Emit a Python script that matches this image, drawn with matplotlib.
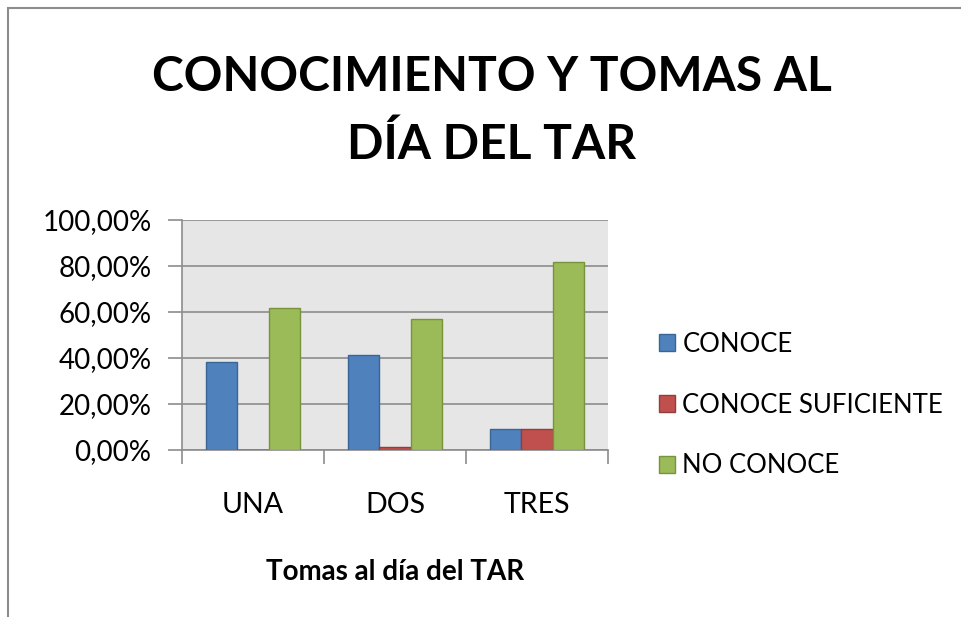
import numpy as np
import matplotlib
matplotlib.use("Agg")
from matplotlib import pyplot as plt
from matplotlib.patches import Rectangle

# data
categories = ["UNA", "DOS", "TRES"]
conoce = [38.1, 41.4, 9.1]
conoce_suficiente = [0.0, 1.4, 9.1]
no_conoce = [61.9, 57.1, 81.8]
series_names = ["CONOCE", "CONOCE SUFICIENTE", "NO CONOCE"]
yticks = [0, 20, 40, 60, 80, 100]

plt.rcParams['font.family'] = ['Lato', 'DejaVu Sans']

fig = plt.figure(figsize=(9.62, 6.17), dpi=100)
# outer chart border
fig.patches.append(Rectangle((8 / 962, -0.1), 1.1, 1 - 8 / 617 + 0.1,
                             transform=fig.transFigure, fill=False,
                             edgecolor="#8c8c8c", linewidth=1.5))

ax = fig.add_axes([182 / 962, 1 - 450 / 617, 426 / 962, 230 / 617])
ax.set_facecolor("#e6e6e6")

x = np.arange(len(categories))
w = 1 / 4.5
colors = ["#4f81bd", "#c0504d", "#9bbb59"]
edges = ["#3a6595", "#943c3a", "#77933c"]
for i, vals in enumerate([conoce, conoce_suficiente, no_conoce]):
    ax.bar(x + (i - 1) * w, vals, width=w, color=colors[i], edgecolor=edges[i],
           linewidth=1, label=series_names[i], zorder=3)

ax.set_xlim(-0.5, 2.5)
ax.set_ylim(0, 100)
ax.set_yticks(yticks)
ax.set_yticklabels([f"{v:.2f}%".replace(".", ",") for v in yticks], fontsize=20)
ax.set_xticks([-0.5, 0.5, 1.5, 2.5])
ax.set_xticklabels([])
ax.set_xticks(x, minor=True)
ax.set_xticklabels(categories, minor=True, fontsize=20.5)
ax.tick_params(axis="x", which="minor", length=0, pad=30)
ax.tick_params(axis="x", which="major", length=10, color="#8c8c8c", width=1.2)
ax.tick_params(axis="y", length=10, color="#8c8c8c", width=1.2, pad=12)
ax.yaxis.grid(True, color="#8c8c8c", linewidth=1.2, zorder=1)
ax.set_axisbelow(True)
for s in ["top", "right"]:
    ax.spines[s].set_visible(False)
for s in ["left", "bottom"]:
    ax.spines[s].set_color("#8c8c8c")
    ax.spines[s].set_linewidth(1.2)

ax.set_xlabel("Tomas al día del TAR", fontsize=20, fontweight="bold", labelpad=30)

fig.text(492 / 962, 1 - 111 / 617, "CONOCIMIENTO Y TOMAS AL\nDÍA DEL TAR",
         ha="center", va="center", fontsize=34.5, fontweight="bold", linespacing=1.65)

leg = ax.legend(loc="center left", frameon=False,
                fontsize=18.5, handlelength=0.6, handleheight=0.6, handletextpad=0.3,
                labelspacing=1.4)
leg.set_bbox_to_anchor((636 / 962, 1 - 405 / 617), transform=fig.transFigure)

fig.savefig("out.png", dpi=100)
